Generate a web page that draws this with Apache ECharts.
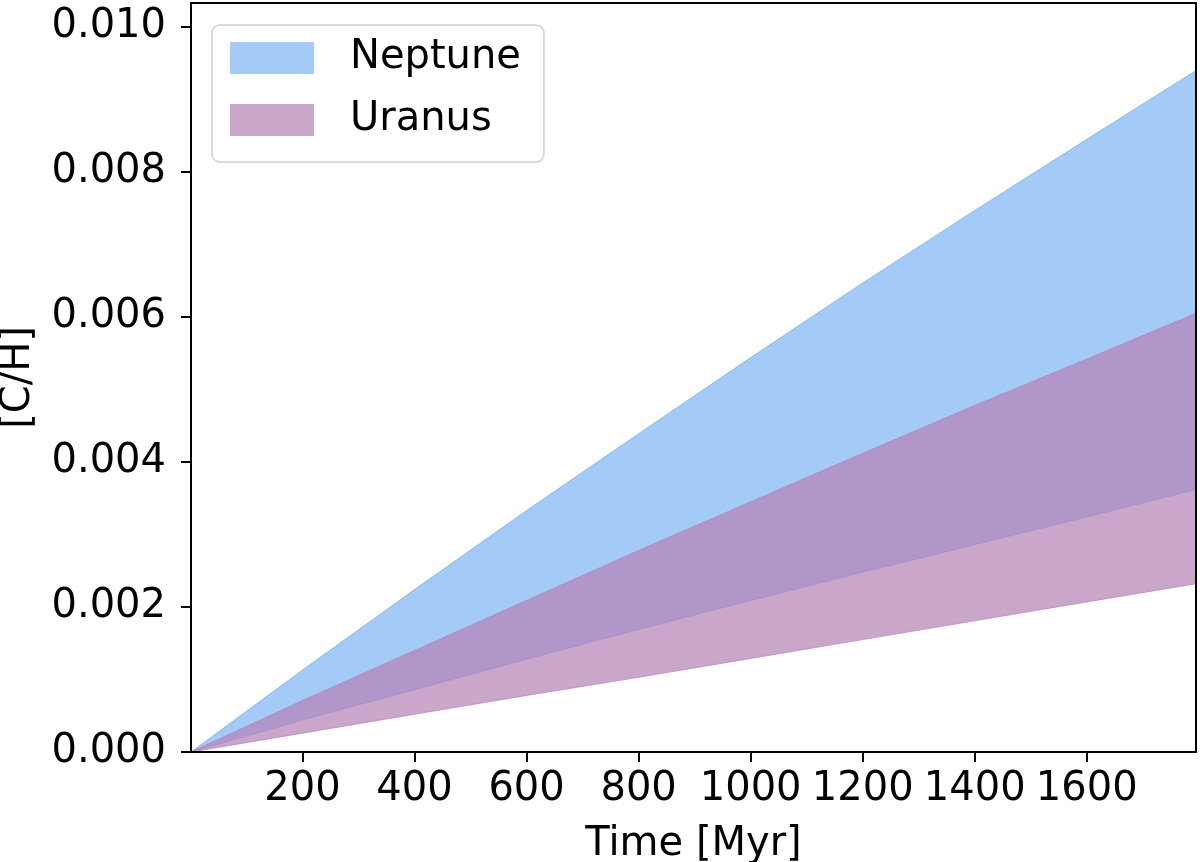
<!DOCTYPE html>
<html>
<head>
<meta charset="utf-8">
<script src="https://cdn.jsdelivr.net/npm/echarts@6/dist/echarts.min.js"></script>
<style>
  html, body { margin: 0; padding: 0; background: #fff; }
  #chart { width: 1200px; height: 862px; }
</style>
</head>
<body>
<div id="chart"></div>
<script>
// ---- Data ----
const times = [1, 200, 400, 600, 800, 1000, 1200, 1400, 1600, 1795];
const neptuneUpper = [0, 0.00113, 0.00224, 0.00333, 0.00439, 0.00544, 0.00647, 0.00747, 0.00845, 0.00940];
const neptuneLower = [0, 0.00044, 0.00086, 0.00128, 0.00169, 0.00209, 0.00248, 0.00286, 0.00324, 0.00362];
const uranusUpper  = [0, 0.00071, 0.00140, 0.00209, 0.00278, 0.00345, 0.00412, 0.00478, 0.00542, 0.00605];
const uranusLower  = [0, 0.00026, 0.00052, 0.00078, 0.00103, 0.00129, 0.00155, 0.00181, 0.00207, 0.00232];
const xTicks = [200, 400, 600, 800, 1000, 1200, 1400, 1600];
const yTicks = [0, 0.002, 0.004, 0.006, 0.008, 0.010];
const seriesNames = ['Neptune', 'Uranus'];

const FONT = 'DejaVu Sans';
const NEPTUNE_COLOR = 'rgba(73,149,241,0.5)';
const URANUS_COLOR = 'rgba(181,128,181,0.7)';

function bandSeries(name, lower, upper, color) {
  const data = times.map((t, i) => [t, lower[i], upper[i]]);
  return {
    name: name,
    type: 'custom',
    xAxisIndex: 0,
    yAxisIndex: 0,
    silent: true,
    itemStyle: { color: color },
    encode: { x: 0, y: [1, 2] },
    data: data,
    renderItem: function (params, api) {
      if (params.dataIndex !== 0) return null;
      const pts = [];
      for (let i = 0; i < times.length; i++) pts.push(api.coord([times[i], upper[i]]));
      for (let i = times.length - 1; i >= 0; i--) pts.push(api.coord([times[i], lower[i]]));
      return {
        type: 'polygon',
        shape: { points: pts },
        style: { fill: color, stroke: color, lineWidth: 1 }
      };
    }
  };
}

const chart = echarts.init(document.getElementById('chart'), null, { renderer: 'canvas' });

const axisLineStyle = { color: '#000', width: 2 };

chart.setOption({
  animation: false,
  backgroundColor: '#fff',
  grid: {
    left: 191, right: 4, top: 3, bottom: 110,
    containLabel: false,
    outerBoundsMode: 'none'
  },
  legend: {
    data: seriesNames,
    orient: 'vertical',
    left: 212,
    top: 25,
    icon: 'rect',
    itemWidth: 84,
    itemHeight: 32,
    itemGap: 22,
    padding: [13, 23, 22, 18],
    backgroundColor: 'rgba(255,255,255,0.8)',
    borderColor: '#d0d0d0',
    borderWidth: 1.5,
    borderRadius: 8,
    selectedMode: false,
    textStyle: {
      fontFamily: FONT,
      fontSize: 40,
      color: '#000',
      lineHeight: 32,
      padding: [0, 0, 0, 31]
    }
  },
  xAxis: [
    {
      type: 'value',
      min: 1,
      max: 1795,
      position: 'bottom',
      z: 10,
      name: 'Time [Myr]',
      nameLocation: 'middle',
      nameGap: 73,
      nameTextStyle: { fontFamily: FONT, fontSize: 40, color: '#000' },
      axisLine: { show: true, lineStyle: axisLineStyle },
      axisTick: { show: true, length: 10, lineStyle: axisLineStyle, customValues: xTicks },
      axisLabel: {
        show: true,
        customValues: xTicks,
        margin: 18,
        fontFamily: FONT,
        fontSize: 40,
        color: '#000',
        formatter: function (v) { return String(v); }
      },
      splitLine: { show: false }
    },
    {
      type: 'value',
      min: 1,
      max: 1795,
      position: 'top',
      z: 10,
      axisLine: { show: true, onZero: false, lineStyle: axisLineStyle },
      axisTick: { show: false },
      axisLabel: { show: false },
      splitLine: { show: false }
    }
  ],
  yAxis: [
    {
      type: 'value',
      min: 0,
      max: 0.010331,
      position: 'left',
      z: 10,
      name: '[C/H]',
      nameLocation: 'middle',
      nameRotate: 90,
      nameGap: 152,
      nameTextStyle: { fontFamily: FONT, fontSize: 40, color: '#000' },
      axisLine: { show: true, onZero: false, lineStyle: axisLineStyle },
      axisTick: { show: true, length: 10, lineStyle: axisLineStyle, customValues: yTicks },
      axisLabel: {
        show: true,
        customValues: yTicks,
        margin: 25,
        fontFamily: FONT,
        fontSize: 40,
        color: '#000',
        padding: [5, 0, 0, 0],
        formatter: function (v) { return v.toFixed(3); }
      },
      splitLine: { show: false }
    },
    {
      type: 'value',
      min: 0,
      max: 0.010331,
      position: 'right',
      z: 10,
      axisLine: { show: true, onZero: false, lineStyle: axisLineStyle },
      axisTick: { show: false },
      axisLabel: { show: false },
      splitLine: { show: false }
    }
  ],
  series: [
    bandSeries('Neptune', neptuneLower, neptuneUpper, NEPTUNE_COLOR),
    bandSeries('Uranus', uranusLower, uranusUpper, URANUS_COLOR)
  ]
});
</script>
</body>
</html>
